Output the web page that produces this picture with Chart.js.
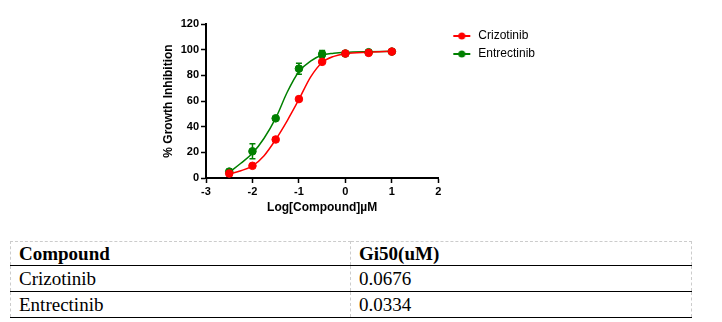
<!DOCTYPE html>
<html>
<head>
<meta charset="utf-8">
<script src="https://cdn.jsdelivr.net/npm/chart.js@4.4.0/dist/chart.umd.min.js"></script>
<style>
    body { margin: 0; background: #fff; width: 722px; height: 322px; position: relative; overflow: hidden; }
    #wrap { position: absolute; left: 0; top: 0; width: 722px; height: 225px; }
    table { position: absolute; left: 10px; top: 241px; width: 682px; border-collapse: collapse;
            font-family: "Liberation Serif", "Times New Roman", serif; font-size: 19px; color: #000; }
    td, th { text-align: left; padding: 0 0 0 8px; vertical-align: middle; white-space: nowrap;
             border-left: 1px dashed #ccc; border-right: 1px dashed #ccc; border-bottom: 1px solid #000; }
    th { border-top: 1px dashed #ccc; height: 23px; font-weight: bold; }
    td { height: 25px; }
    td:first-child, th:first-child { width: 331px; }
</style>
</head>
<body>
<div id="wrap"><canvas id="gi50Chart"></canvas></div>
<table>
    <tr><th>Compound</th><th>Gi50(uM)</th></tr>
    <tr><td>Crizotinib</td><td>0.0676</td></tr>
    <tr><td>Entrectinib</td><td>0.0334</td></tr>
</table>
<script>
// measured points (log concentration, µM)
const logConc = [-2.5, -2, -1.5, -1, -0.5, 0, 0.5, 1];
const crizotinib = [3.5, 9.5, 30, 61.5, 90.5, 97, 97.5, 98.5];
const crizotinibErr = [2, 1, 1, 1.5, 1, 1, 1, 1];
const entrectinib = [5, 20.8, 46.5, 85.2, 96.5, 97, 98, 98.5];
const entrectinibErr = [1.5, 5.8, 1, 4.3, 2.8, 1, 1, 1];

// fitted curves
const fitX = [-2.5, -2.25, -2, -1.75, -1.5, -1.25, -1, -0.75, -0.5, -0.25, 0, 0.5, 1];
const crizotinibFit = [3.1, 5.7, 9.4, 17.4, 30, 44.8, 61.2, 78.6, 90, 94.8, 96.9, 98, 98.7];
const entrectinibFit = [4.4, 11.5, 19.3, 31, 46.6, 67, 83, 91, 95.8, 97.2, 97.9, 98.4, 98.7];

const RED = '#ff0000';
const GREEN = '#008000';
const FONT = '"Liberation Sans", Arial, sans-serif';

function toPoints(xs, ys) {
    return xs.map((x, i) => ({ x: x, y: ys[i] }));
}

// little "line with dot" icon for the legend
function legendIcon(color) {
    const c = document.createElement('canvas');
    c.width = 26;
    c.height = 10;
    const g = c.getContext('2d');
    g.strokeStyle = color;
    g.lineWidth = 2;
    g.beginPath();
    g.moveTo(8, 5);
    g.lineTo(25, 5);
    g.stroke();
    g.fillStyle = color;
    g.beginPath();
    g.arc(16.5, 5, 3.5, 0, Math.PI * 2);
    g.fill();
    return c;
}

// error bars drawn under the markers
const errorBars = {
    id: 'errorBars',
    beforeDatasetsDraw(chart) {
        const { ctx, scales: { x, y } } = chart;
        [[entrectinib, entrectinibErr, GREEN], [crizotinib, crizotinibErr, RED]].forEach(([vals, errs, color]) => {
            ctx.save();
            ctx.strokeStyle = color;
            ctx.lineWidth = 1.5;
            vals.forEach((v, i) => {
                const px = x.getPixelForValue(logConc[i]);
                const top = y.getPixelForValue(v + errs[i]);
                const bot = y.getPixelForValue(v - errs[i]);
                ctx.beginPath();
                ctx.moveTo(px, top); ctx.lineTo(px, bot);
                ctx.moveTo(px - 3, top); ctx.lineTo(px + 3, top);
                ctx.moveTo(px - 3, bot); ctx.lineTo(px + 3, bot);
                ctx.stroke();
            });
            ctx.restore();
        });
    }
};

const axisCommon = {
    grid: { display: true, drawOnChartArea: false, drawTicks: true, tickLength: 5, tickColor: '#000', tickWidth: 1.5 },
    border: { display: true, color: '#000', width: 2 }
};

new Chart('gi50Chart', {
    type: 'scatter',
    data: {
        datasets: [
            { label: 'Crizotinib', data: toPoints(logConc, crizotinib), backgroundColor: RED, borderColor: RED,
              pointRadius: 3.8, pointHoverRadius: 3.8, showLine: false },
            { label: 'Entrectinib', data: toPoints(logConc, entrectinib), backgroundColor: GREEN, borderColor: GREEN,
              pointRadius: 3.8, pointHoverRadius: 3.8, showLine: false },
            { label: 'Crizotinib fit', data: toPoints(fitX, crizotinibFit), borderColor: RED, borderWidth: 1.5,
              pointRadius: 0, showLine: true, cubicInterpolationMode: 'monotone' },
            { label: 'Entrectinib fit', data: toPoints(fitX, entrectinibFit), borderColor: GREEN, borderWidth: 1.5,
              pointRadius: 0, showLine: true, cubicInterpolationMode: 'monotone' }
        ]
    },
    options: {
        responsive: true,
        maintainAspectRatio: false,
        animation: false,
        layout: { padding: { left: 0, top: 24, right: 177, bottom: 0 } },
        plugins: {
            tooltip: { enabled: false },
            legend: {
                position: 'right',
                align: 'start',
                labels: {
                    usePointStyle: true,
                    pointStyleWidth: 28,
                    padding: 6,
                    color: '#000',
                    font: { family: FONT, size: 12 },
                    generateLabels: chart => chart.data.datasets.slice(0, 2).map((ds, i) => ({
                        text: ds.label,
                        datasetIndex: i,
                        pointStyle: legendIcon(ds.borderColor),
                        fillStyle: ds.borderColor,
                        strokeStyle: ds.borderColor,
                        lineWidth: 0,
                        fontColor: '#000',
                        hidden: false
                    }))
                }
            }
        },
        scales: {
            x: {
                type: 'linear',
                min: -3,
                max: 2,
                ...axisCommon,
                ticks: { stepSize: 1, padding: 2, color: '#000', font: { family: FONT, size: 11, weight: 'bold' } },
                title: { display: true, text: 'Log[Compound]µM', color: '#000',
                         font: { family: FONT, size: 12, weight: 'bold' }, padding: { top: 0, bottom: 10 } },
                afterFit: s => { s.height = 47; }
            },
            y: {
                min: 0,
                max: 120,
                ...axisCommon,
                ticks: { stepSize: 20, padding: 2, color: '#000', font: { family: FONT, size: 11, weight: 'bold' } },
                title: { display: true, text: '% Growth Inhibition', color: '#000',
                         font: { family: FONT, size: 12, weight: 'bold' }, padding: { top: 161, bottom: 0 } },
                afterFit: s => { s.width = 206; }
            }
        }
    },
    plugins: [errorBars]
});
</script>
</body>
</html>
